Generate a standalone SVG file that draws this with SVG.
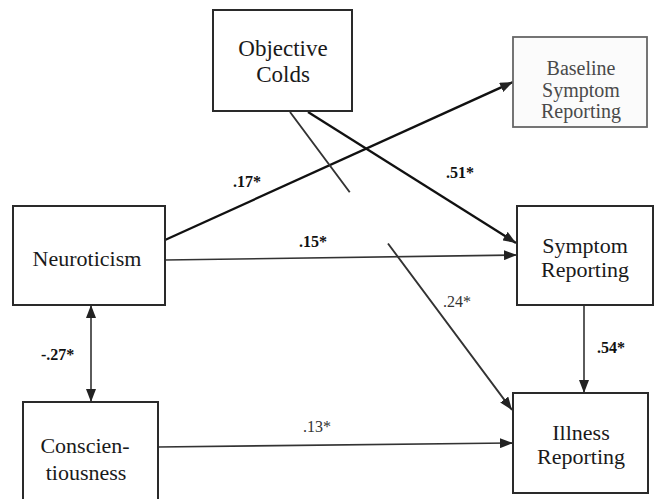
<svg xmlns="http://www.w3.org/2000/svg" width="658" height="499" viewBox="0 0 658 499">
<style>
.box{fill:#fff;stroke:#2a2a2a;stroke-width:2}
.grey{fill:#fbfbfb;stroke:#666;stroke-width:1.8}
.t{font-family:"Liberation Serif","Times New Roman",serif;font-size:22px;fill:#1a1a1a;text-anchor:middle}
.tg{font-family:"Liberation Serif","Times New Roman",serif;font-size:20px;fill:#4a4a4a;text-anchor:middle}
.lb{font-family:"Liberation Serif","Times New Roman",serif;font-size:16px;fill:#111;font-weight:bold}
.lr{font-family:"Liberation Serif","Times New Roman",serif;font-size:16px;fill:#333}
.c{fill:none;stroke:#333;stroke-width:1.6}
.ck{fill:none;stroke:#111;stroke-width:2.3}
</style>
<defs>
<marker id="ah" markerUnits="userSpaceOnUse" markerWidth="14" markerHeight="10" refX="13" refY="5" orient="auto-start-reverse">
<path d="M0,0 L13,5 L0,10 z" fill="#222"/>
</marker>
</defs>
<rect width="658" height="499" fill="#fff"/>
<g id="connectors">
<path class="ck" d="M165,240 L513,82" marker-end="url(#ah)"/>
<path class="ck" d="M308,112 L516,243" marker-end="url(#ah)"/>
<path class="c" d="M290,112 L512,410" style="stroke-width:1.9" stroke-dasharray="100 64 1000" marker-end="url(#ah)"/>
<path class="c" d="M165,260 L517,255" marker-end="url(#ah)"/>
<path class="c" d="M158,447 L513,443" marker-end="url(#ah)"/>
<path class="c" d="M584,305 L584,393" marker-end="url(#ah)"/>
<path class="c" d="M91,305 L91,402" marker-start="url(#ah)" marker-end="url(#ah)"/>
</g>
<g id="labels">
<text class="lb" x="233" y="187">.17*</text>
<text class="lb" x="446" y="178">.51*</text>
<text class="lb" x="299" y="247">.15*</text>
<text class="lr" x="443" y="307">.24*</text>
<text class="lr" x="303" y="432">.13*</text>
<text class="lb" x="597" y="353">.54*</text>
<text class="lb" x="41" y="360">-.27*</text>
</g>
<g id="objective-colds">
<rect class="box" x="213" y="10" width="139" height="101"/>
<text class="t" x="283" y="56" style="font-size:23px">Objective</text>
<text class="t" x="283" y="82" style="font-size:23px">Colds</text>
</g>
<g id="baseline-symptom-reporting">
<rect class="grey" x="513" y="37" width="134" height="90"/>
<text class="tg" x="581" y="75">Baseline</text>
<text class="tg" x="581" y="97">Symptom</text>
<text class="tg" x="581" y="118">Reporting</text>
</g>
<g id="neuroticism">
<rect class="box" x="13" y="206" width="152" height="99"/>
<text class="t" x="87" y="266">Neuroticism</text>
</g>
<g id="symptom-reporting">
<rect class="box" x="517" y="206" width="136" height="99"/>
<text class="t" x="585" y="253">Symptom</text>
<text class="t" x="585" y="277">Reporting</text>
</g>
<g id="conscientiousness">
<rect class="box" x="23" y="402" width="135" height="110"/>
<text class="t" x="85" y="453">Conscien-</text>
<text class="t" x="86" y="480">tiousness</text>
</g>
<g id="illness-reporting">
<rect class="box" x="513" y="393" width="135" height="100"/>
<text class="t" x="581" y="440">Illness</text>
<text class="t" x="581" y="464">Reporting</text>
</g>
</svg>
